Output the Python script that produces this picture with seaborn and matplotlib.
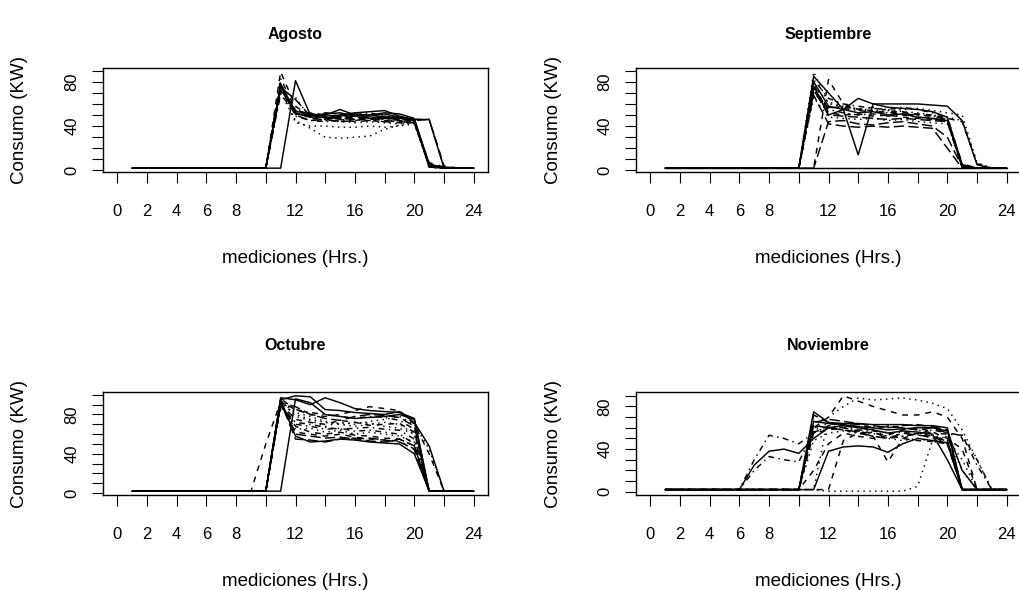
import matplotlib
matplotlib.use("Agg")
import matplotlib.pyplot as plt
import pandas as pd
import seaborn as sns

# ---------------- data ----------------
hours = list(range(1, 25))

agosto = [
    [2,2,2,2,2,2,2,2,2,2,76,51,49,50,55,50,49,51,48,46,5,2,2,2],
    [2,2,2,2,2,2,2,2,2,2,72,53,47,46,48,47,46,47,45,44,4,2,2,2],
    [2,2,2,2,2,2,2,2,2,2,70,45,38,30,29,30,31,37,41,44,6,2,2,2],
    [2,2,2,2,2,2,2,2,2,2,83,55,50,48,47,49,48,46,46,45,3,2,2,2],
    [2,2,2,2,2,2,2,2,2,2,74,50,45,46,44,45,47,45,44,43,5,2,2,2],
    [2,2,2,2,2,2,2,2,2,2,2,81,50,51,52,49,50,48,47,46,46,2,2,2],
    [2,2,2,2,2,2,2,2,2,2,89,58,48,47,46,44,45,44,43,43,7,3,2,2],
    [2,2,2,2,2,2,2,2,2,2,78,43,40,40,39,39,40,39,40,42,3,2,2,2],
    [2,2,2,2,2,2,2,2,2,2,69,51,50,52,51,50,52,49,47,45,4,2,2,2],
    [2,2,2,2,2,2,2,2,2,2,75,64,49,48,47,46,48,47,46,45,46,3,2,2],
    [2,2,2,2,2,2,2,2,2,2,77,52,48,49,50,52,53,54,49,46,6,2,2,2],
    [2,2,2,2,2,2,2,2,2,2,73,53,51,48,46,48,47,49,48,46,46,4,2,2],
    [2,2,2,2,2,2,2,2,2,2,71,66,47,45,44,43,44,43,42,43,5,2,2,2],
    [2,2,2,2,2,2,2,2,2,2,79,49,45,44,45,46,45,44,45,44,4,2,2,2],
    [2,2,2,2,2,2,2,2,2,2,74,54,49,50,48,49,47,48,47,45,3,2,2,2],
    [2,2,2,2,2,2,2,2,2,2,78,53,52,47,49,51,50,52,51,47,3,2,2,2],
]

septiembre = [
    [2,2,2,2,2,2,2,2,2,2,80,58,55,52,53,50,51,48,47,45,4,2,2,2],
    [2,2,2,2,2,2,2,2,2,2,2,82,60,55,54,52,53,50,49,46,5,2,2,2],
    [2,2,2,2,2,2,2,2,2,2,75,62,57,56,54,55,53,52,50,48,45,6,2,2],
    [2,2,2,2,2,2,2,2,2,2,72,55,52,50,51,49,50,48,47,44,3,2,2,2],
    [2,2,2,2,2,2,2,2,2,2,68,42,40,39,40,39,40,39,38,20,2,2,2,2],
    [2,2,2,2,2,2,2,2,2,2,85,70,55,14,60,57,56,55,53,48,5,2,2,2],
    [2,2,2,2,2,2,2,2,2,2,78,52,50,51,49,50,48,47,46,45,4,2,2,2],
    [2,2,2,2,2,2,2,2,2,2,89,60,58,55,52,54,55,56,54,52,50,7,2,2],
    [2,2,2,2,2,2,2,2,2,2,70,57,56,54,53,52,51,50,49,46,3,2,2,2],
    [2,2,2,2,2,2,2,2,2,2,2,44,45,42,41,43,44,42,40,30,3,2,2,2],
    [2,2,2,2,2,2,2,2,2,2,76,50,55,65,60,60,60,60,59,58,45,5,2,2],
    [2,2,2,2,2,2,2,2,2,2,74,56,58,55,57,54,52,51,50,47,44,6,2,2],
    [2,2,2,2,2,2,2,2,2,2,66,48,47,46,47,45,46,44,43,42,5,2,2,2],
    [2,2,2,2,2,2,2,2,2,2,82,65,60,58,56,55,57,55,52,48,6,2,2,2],
    [2,2,2,2,2,2,2,2,2,2,73,50,49,48,47,46,47,46,45,44,3,2,2,2],
    [2,2,2,2,2,2,2,2,2,2,2,2,2,2,2,2,2,2,2,2,2,2,2,2],
]

octubre = [
    [2,2,2,2,2,2,2,2,2,2,95,99,98,85,84,82,81,80,83,72,48,2,2,2],
    [2,2,2,2,2,2,2,2,2,50,93,85,80,78,80,84,88,86,84,70,40,2,2,2],
    [2,2,2,2,2,2,2,2,2,2,92,80,75,72,70,68,70,72,70,60,2,2,2,2],
    [2,2,2,2,2,2,2,2,2,2,90,70,68,65,66,63,64,62,60,50,2,2,2,2],
    [2,2,2,2,2,2,2,2,2,2,94,60,58,56,57,55,56,54,52,45,2,2,2,2],
    [2,2,2,2,2,2,2,2,2,2,2,96,92,80,78,76,77,78,80,75,2,2,2,2],
    [2,2,2,2,2,2,2,2,2,2,91,75,72,70,74,72,69,70,71,62,2,2,2,2],
    [2,2,2,2,2,2,2,2,2,2,88,65,66,62,64,60,62,60,58,52,2,2,2,2],
    [2,2,2,2,2,2,2,2,2,2,96,85,82,80,78,76,78,77,74,65,2,2,2,2],
    [2,2,2,2,2,2,2,2,2,2,93,55,54,52,55,56,53,52,55,48,2,2,2,2],
    [2,2,2,2,2,2,2,2,2,2,94,58,52,53,55,54,52,51,50,40,2,2,2,2],
    [2,2,2,2,2,2,2,2,2,2,90,62,60,58,60,57,55,54,53,44,2,2,2,2],
    [2,2,2,2,2,2,2,2,2,2,95,78,74,68,72,70,73,75,78,70,45,2,2,2],
    [2,2,2,2,2,2,2,2,2,2,89,72,70,67,65,66,67,65,64,55,2,2,2,2],
    [2,2,2,2,2,2,2,2,2,2,92,88,80,76,74,78,80,79,77,68,2,2,2,2],
    [2,2,2,2,2,2,2,2,2,2,97,95,90,97,92,86,84,83,82,76,2,2,2,2],
    [2,2,2,2,2,2,2,2,2,2,90,68,62,60,62,59,58,56,55,48,2,2,2,2],
    [2,2,2,2,2,2,2,2,2,2,93,82,78,73,70,72,71,68,66,60,2,2,2,2],
]

noviembre = [
    [2,2,2,2,2,2,25,38,40,36,50,60,62,60,58,55,57,56,54,30,2,2,2,2],
    [2,2,2,2,2,2,2,2,2,2,60,70,90,85,80,76,72,72,75,70,50,2,2,2],
    [2,2,2,2,2,2,2,2,2,2,2,70,80,88,86,87,88,86,83,78,58,30,2,2],
    [2,2,2,2,2,2,30,53,50,45,55,62,60,58,57,55,56,54,58,55,53,25,2,2],
    [2,2,2,2,2,2,2,2,2,2,72,65,62,63,60,61,60,58,60,55,2,2,2,2],
    [2,2,2,2,2,2,2,2,2,2,75,65,64,64,63,63,63,62,62,60,2,2,2,2],
    [2,2,2,2,2,2,2,2,2,2,2,2,48,55,52,28,50,55,52,45,2,2,2,2],
    [2,2,2,2,2,2,2,2,2,2,2,0.5,0.5,0.5,0.5,0.5,0.5,5,48,52,20,2,2,2],
    [2,2,2,2,2,2,20,33,30,28,56,60,58,55,56,50,52,54,50,48,2,2,2,2],
    [2,2,2,2,2,2,2,2,2,2,65,68,66,64,62,60,62,63,61,58,2,2,2,2],
    [2,2,2,2,2,2,2,2,2,2,2,38,42,43,42,37,45,50,48,46,2,2,2,2],
    [2,2,2,2,2,2,2,2,2,2,55,58,60,57,55,53,58,60,56,50,40,2,2,2],
    [2,2,2,2,2,2,2,2,2,2,58,62,60,57,54,56,52,55,53,50,30,2,2,2],
    [2,2,2,2,2,2,2,2,2,2,60,64,62,60,58,62,60,58,55,54,53,30,2,2],
    [2,2,2,2,2,2,2,2,2,2,62,60,58,56,52,50,55,53,52,48,2,2,2,2],
    [2,2,2,2,2,2,2,2,2,2,66,64,63,61,60,58,59,60,60,57,20,2,2,2],
    [2,2,2,2,2,2,2,2,2,2,20,45,55,52,50,53,50,48,47,45,2,2,2,2],
    [2,2,2,2,2,2,2,2,2,2,48,55,57,55,52,50,48,50,47,46,2,2,2,2],
]

titles = ["Agosto", "Septiembre", "Octubre", "Noviembre"]
x_ticks = [0, 2, 4, 6, 8, 10, 12, 14, 16, 18, 20, 22, 24]
x_tick_labels = ["0", "2", "4", "6", "8", "", "12", "", "16", "", "20", "", "24"]
y_label_values = [0, 40, 80]
y_tick_tops = [90, 90, 100, 90]
x_label = "mediciones (Hrs.)"
y_label = "Consumo (KW)"

# ---------------- style ----------------
sns.set_style("ticks", {"axes.edgecolor": "black", "xtick.color": "black",
                        "ytick.color": "black", "text.color": "black",
                        "axes.labelcolor": "black"})
plt.rcParams["font.family"] = ["Liberation Sans", "DejaVu Sans"]

W, H = 1019, 590
fig = plt.figure(figsize=(W / 100, H / 100), dpi=100)

# panel boxes in pixels: left, right, top, bottom, title centre y
boxes = [(103, 488, 68, 172, 35), (636, 1021, 68, 172, 35),
         (103, 488, 392, 495, 346), (636, 1021, 392, 495, 346)]
dash_cycle = ["", (4, 4), (1, 3), (1, 3, 4, 3), (7, 3)]

for series, title, ytop, (l, r, t, b, ty) in zip(
        [agosto, septiembre, octubre, noviembre], titles, y_tick_tops, boxes):
    ax = fig.add_axes([l / W, 1 - b / H, (r - l) / W, (b - t) / H])
    rows = []
    for i, s in enumerate(series):
        for h, v in zip(hours, s):
            rows.append((i, h, v))
    df = pd.DataFrame(rows, columns=["dia", "hora", "kw"])
    dashes = [dash_cycle[i % 5] for i in range(len(series))]
    sns.lineplot(data=df, x="hora", y="kw", style="dia", dashes=dashes,
                 color="black", lw=1.05, legend=False, estimator=None, ax=ax)

    lo = min(min(s) for s in series)
    hi = max(max(s) for s in series)
    pad = 0.04 * (hi - lo)
    ax.set_ylim(lo - pad, hi + pad)
    ax.set_xlim(-0.96, 24.96)

    ax.set_xticks(x_ticks)
    ax.set_xticklabels(x_tick_labels)
    yt = list(range(0, ytop + 1, 10))
    ax.set_yticks(yt)
    ax.set_yticklabels([str(v) if v in y_label_values else "" for v in yt],
                       rotation=90, va="center")
    ax.tick_params(axis="both", direction="out", length=8, width=0.8,
                   labelsize=12)
    ax.tick_params(axis="x", pad=15)
    ax.tick_params(axis="y", pad=9)
    for sp in ax.spines.values():
        sp.set_visible(True)
        sp.set_linewidth(1.0)
        sp.set_color("black")

    hpx = b - t
    ax.set_title(title, fontweight="bold", fontsize=11.5, y=1 + (t - ty) / hpx,
                 pad=0, va="center")
    ax.set_xlabel(x_label, fontsize=13.5, va="center")
    ax.xaxis.set_label_coords(0.5, -86 / hpx)
    ax.set_ylabel(y_label, fontsize=13.5, va="center")
    ax.yaxis.set_label_coords(-83 / (r - l), 0.5)

fig.savefig("out.png", dpi=100)
